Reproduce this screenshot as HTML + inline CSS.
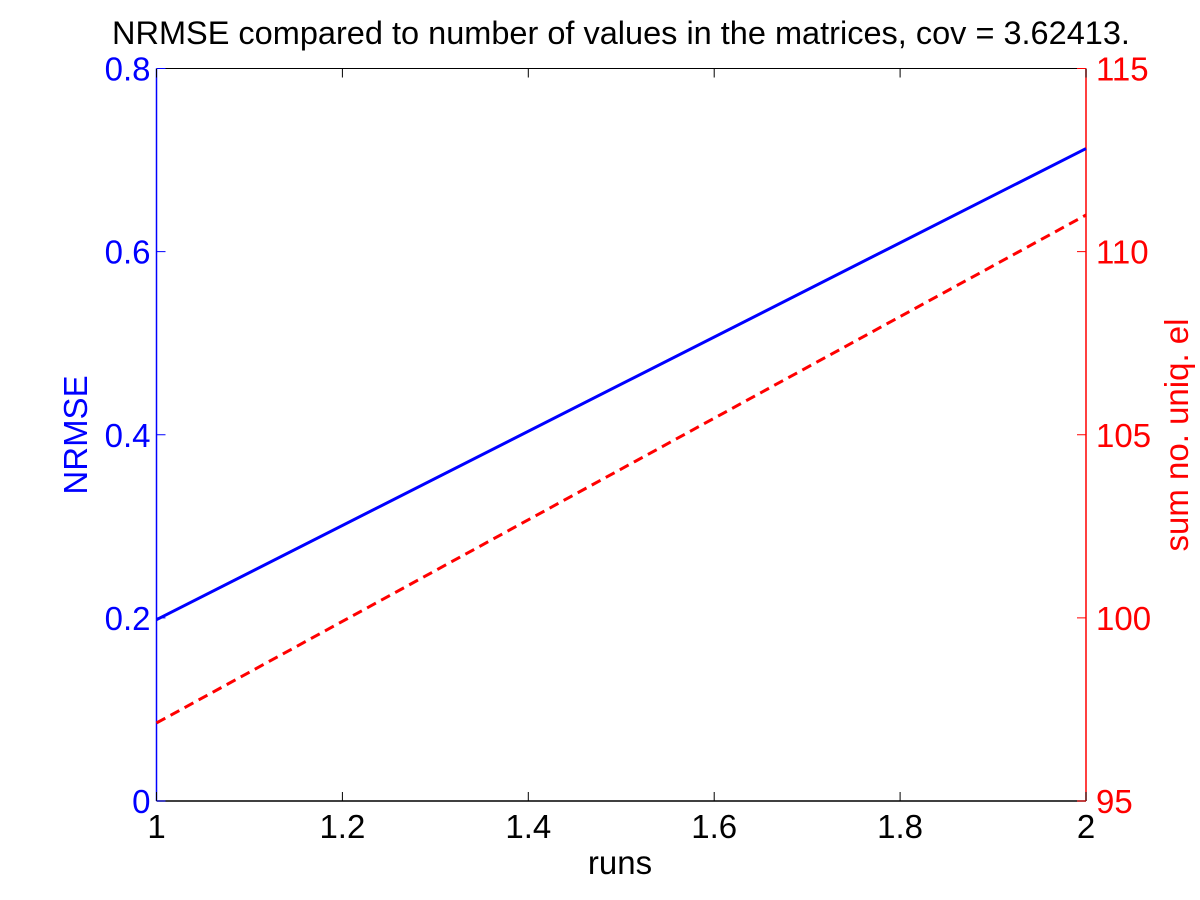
<!DOCTYPE html>
<html><head><meta charset="utf-8"><style>body{margin:0;background:#fff}svg{display:block;font-family:"Liberation Sans",Arial,sans-serif}</style></head>
<body>
<svg id="chart" width="1200" height="900" xmlns="http://www.w3.org/2000/svg">
<rect width="1200" height="900" fill="#fff"/>
<g id="g"></g>
</svg>
<script>
const xVals=[1,2];
const nrmse=[0.198,0.7126];
const uniq=[97.13,111.0];
const xTicks=[1,1.2,1.4,1.6,1.8,2];
const yLeftTicks=[0,0.2,0.4,0.6,0.8];
const yRightTicks=[95,100,105,110,115];
const L=156.5,R=1086,T=68.5,B=801;
const sx=v=>L+(v-1)*(R-L);
const syL=v=>B-v/0.8*(B-T);
const syR=v=>B-(v-95)/20*(B-T);
const g=document.getElementById('g');
const NS='http://www.w3.org/2000/svg';
function mk(tag,attrs,name,text){const e=document.createElementNS(NS,tag);for(const k in attrs)e.setAttribute(k,attrs[k]);


if(text!==undefined)e.textContent=text;g.appendChild(e);return e;}
mk('line',{x1:L,y1:T,x2:R,y2:T,stroke:'#000','stroke-width':1},'top-border');
mk('line',{x1:L,y1:B,x2:R,y2:B,stroke:'#000','stroke-width':1.5},'x-axis');
mk('line',{x1:L,y1:T,x2:L,y2:B,stroke:'#00f','stroke-width':1.5},'left-y-axis');
mk('line',{x1:R,y1:T,x2:R,y2:B,stroke:'#f00','stroke-width':1.5},'right-y-axis');
xTicks.forEach(t=>{const x=sx(t);
mk('line',{x1:x,y1:B,x2:x,y2:B-9,stroke:'#000'},'x-tick');
mk('line',{x1:x,y1:T,x2:x,y2:T+9,stroke:'#000'},'x-tick-top');
mk('text',{x:x,y:B+37,'font-size':33,'text-anchor':'middle',fill:'#000'},'x-tick-label',String(t));});
yLeftTicks.forEach(t=>{const y=syL(t);
mk('line',{x1:L,y1:y,x2:L+9,y2:y,stroke:'#00f'},'left-tick');
mk('text',{x:L-6,y:y+12,'font-size':33,'text-anchor':'end',fill:'#00f'},'left-tick-label',String(t));});
yRightTicks.forEach(t=>{const y=syR(t);
mk('line',{x1:R,y1:y,x2:R-9,y2:y,stroke:'#f00'},'right-tick');
mk('text',{x:R+10,y:y+12,'font-size':33,'text-anchor':'start',fill:'#f00'},'right-tick-label',String(t));});
mk('polyline',{points:xVals.map((x,i)=>sx(x)+','+syL(nrmse[i])).join(' '),fill:'none',stroke:'#00f','stroke-width':3},'nrmse-line');
mk('polyline',{points:xVals.map((x,i)=>sx(x)+','+syR(uniq[i])).join(' '),fill:'none',stroke:'#f00','stroke-width':3,'stroke-dasharray':'10,6'},'uniq-line');
mk('text',{x:621,y:44,'font-size':32.5,'text-anchor':'middle',fill:'#000'},'chart-title','NRMSE compared to number of values in the matrices, cov = 3.62413.');
mk('text',{x:620,y:874,'font-size':33,'text-anchor':'middle',fill:'#000'},'x-axis-title','runs');
mk('text',{x:0,y:0,'font-size':33,'text-anchor':'middle',fill:'#00f',transform:'translate(87,435) rotate(-90)'},'left-y-axis-title','NRMSE');
mk('text',{x:0,y:0,'font-size':33,'text-anchor':'middle',fill:'#f00',transform:'translate(1188,435) rotate(-90)'},'right-y-axis-title','sum no. uniq. el');
</script>
</body></html>
